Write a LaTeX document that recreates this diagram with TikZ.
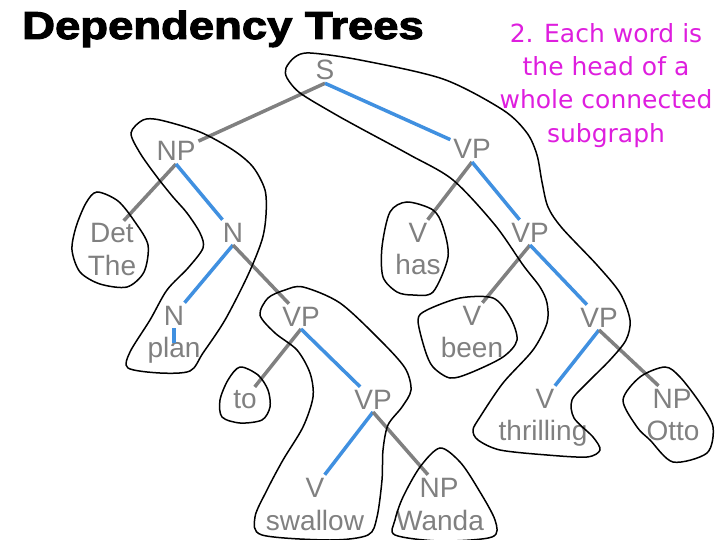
\documentclass[tikz,border=0pt]{standalone}
\usepackage{fontspec}
\setmainfont{Liberation Sans}
\newfontfamily\titlefont[BoldFeatures={FakeBold=2.5}]{Liberation Sans}
\newfontfamily\notefont{DejaVu Sans}
\definecolor{labelgray}{RGB}{128,128,128}
\definecolor{headblue}{RGB}{64,144,224}
\definecolor{notepink}{RGB}{222,30,222}
\tikzset{
  lbl/.style={text=labelgray, font=\fontsize{28}{30}\selectfont, inner sep=1.5pt, outer sep=1.5pt, anchor=base},
  dep/.style={line width=3.5pt, draw=labelgray},
  head/.style={line width=3.5pt, draw=headblue},
  blob/.style={draw=black, line width=1.5pt},
}
\begin{document}
\begin{tikzpicture}[x=1pt,y=-1pt]
\useasboundingbox (0,0) rectangle (720,540);
\node[anchor=base west, inner sep=0, xscale=1.165, font=\titlefont\bfseries\fontsize{39}{40}\selectfont] (title) at (22,39) {Dependency Trees};
\node[anchor=north, inner sep=0, align=center, text=notepink, font=\notefont\fontsize{25}{33.3}\selectfont] (note) at (606,23) {2. Each word is\\the head of a\\whole connected\\subgraph};
% categories and words
\node[lbl] (s) at (325,80) {S};
\node[lbl] (np) at (176,161) {NP};
\node[lbl] (vp) at (472,159) {VP};
\node[lbl] (det) at (112,243) {Det};
\node[lbl] (the) at (112,275) {The};
\node[lbl] (n) at (233,242) {N};
\node[lbl] (vhas) at (418,242) {V};
\node[lbl] (has) at (418,274) {has};
\node[lbl] (vpb) at (530,242) {VP};
\node[lbl] (nplan) at (174,325) {N};
\node[lbl] (plan) at (174,357) {plan};
\node[lbl] (vpto) at (301,326) {VP};
\node[lbl] (vbeen) at (472,325) {V};
\node[lbl] (been) at (472,357) {been};
\node[lbl] (vpc) at (599,327) {VP};
\node[lbl] (to) at (245,408) {to};
\node[lbl] (vpd) at (373,409) {VP};
\node[lbl] (vthr) at (545,408) {V};
\node[lbl] (thrilling) at (543,440) {thrilling};
\node[lbl] (npotto) at (672,408) {NP};
\node[lbl] (otto) at (673,440) {Otto};
\node[lbl] (vsw) at (315,497) {V};
\node[lbl] (swallow) at (315,530) {swallow};
\node[lbl] (npw) at (439,497) {NP};
\node[lbl] (wanda) at (440,530) {Wanda};
% tree edges
\draw[dep] (s.south) -- (np);
\draw[head] (s.south) -- (vp);
\draw[dep] (np.south) -- (det);
\draw[head] (np.south) -- (n);
\draw[head] (n.south) -- (nplan);
\draw[dep] (n.south) -- (vpto);
\draw[head, shorten >=-9pt] (nplan.south) -- (plan.north);
\draw[dep] (vp.south) -- (vhas);
\draw[head] (vp.south) -- (vpb);
\draw[dep] (vpb.south) -- (vbeen);
\draw[head] (vpb.south) -- (vpc);
\draw[head] (vpc.south) -- (vthr);
\draw[dep] (vpc.south) -- (npotto);
\draw[dep] (vpto.south) -- (to);
\draw[head] (vpto.south) -- (vpd);
\draw[head] (vpd.south) -- (vsw);
\draw[dep] (vpd.south) -- (npw);
% subgraph outlines
\draw[blob] plot[smooth cycle] coordinates {(97,192) (118,201) (135,222) (148,245) (144,272) (127,287) (100,284) (80,272) (72,250) (76,227) (86,203)};
\draw[blob] plot[smooth cycle] coordinates {(143,120) (160,120) (200,132) (233,150) (253,167) (265,190) (266,215) (262,240) (248,275) (225,320) (203,353) (190,371) (160,373) (128,368) (130,352) (150,320) (167,290) (188,268) (203,248) (200,233) (187,213) (173,197) (157,177) (140,153) (131,133)};
\draw[blob] plot[smooth cycle] coordinates {(286,68) (295,57) (310,53) (360,60) (443,79) (503,110) (527,133) (537,155) (542,182) (548,207) (562,228) (597,265) (620,293) (630,320) (626,340) (610,360) (587,383) (572,400) (574,418) (593,437) (600,450) (587,457) (547,455) (500,450) (478,440) (473,430) (480,417) (503,383) (533,350) (547,323) (547,303) (540,287) (523,265) (495,225) (453,180) (410,155) (360,128) (333,113) (300,93) (287,78)};
\draw[blob] plot[smooth cycle] coordinates {(407,202) (433,210) (443,227) (448,257) (433,292) (413,295) (397,292) (383,277) (382,247) (390,212)};
\draw[blob] plot[smooth cycle] coordinates {(418,320) (427,310) (460,298) (493,298) (510,317) (517,340) (503,357) (470,373) (450,378) (433,367) (425,350)};
\draw[blob] plot[smooth cycle] coordinates {(665,367) (680,377) (700,403) (713,427) (707,453) (673,462) (650,440) (637,427) (623,400) (640,377)};
\draw[blob] plot[smooth cycle] coordinates {(240,367) (258,375) (268,390) (270,407) (262,420) (240,423) (222,417) (220,400) (228,380)};
\draw[blob] plot[smooth cycle] coordinates {(440,448) (460,462) (477,487) (495,520) (492,537) (440,541) (395,535) (395,520) (403,497) (420,467)};
\draw[blob] plot[smooth cycle] coordinates {(260,315) (268,298) (285,290) (303,287) (340,303) (380,340) (405,368) (411,390) (402,407) (388,425) (383,450) (382,480) (377,517) (368,535) (330,540) (262,535) (255,517) (267,490) (283,460) (303,427) (313,397) (310,373) (297,350) (275,333)};
\end{tikzpicture}
\end{document}
